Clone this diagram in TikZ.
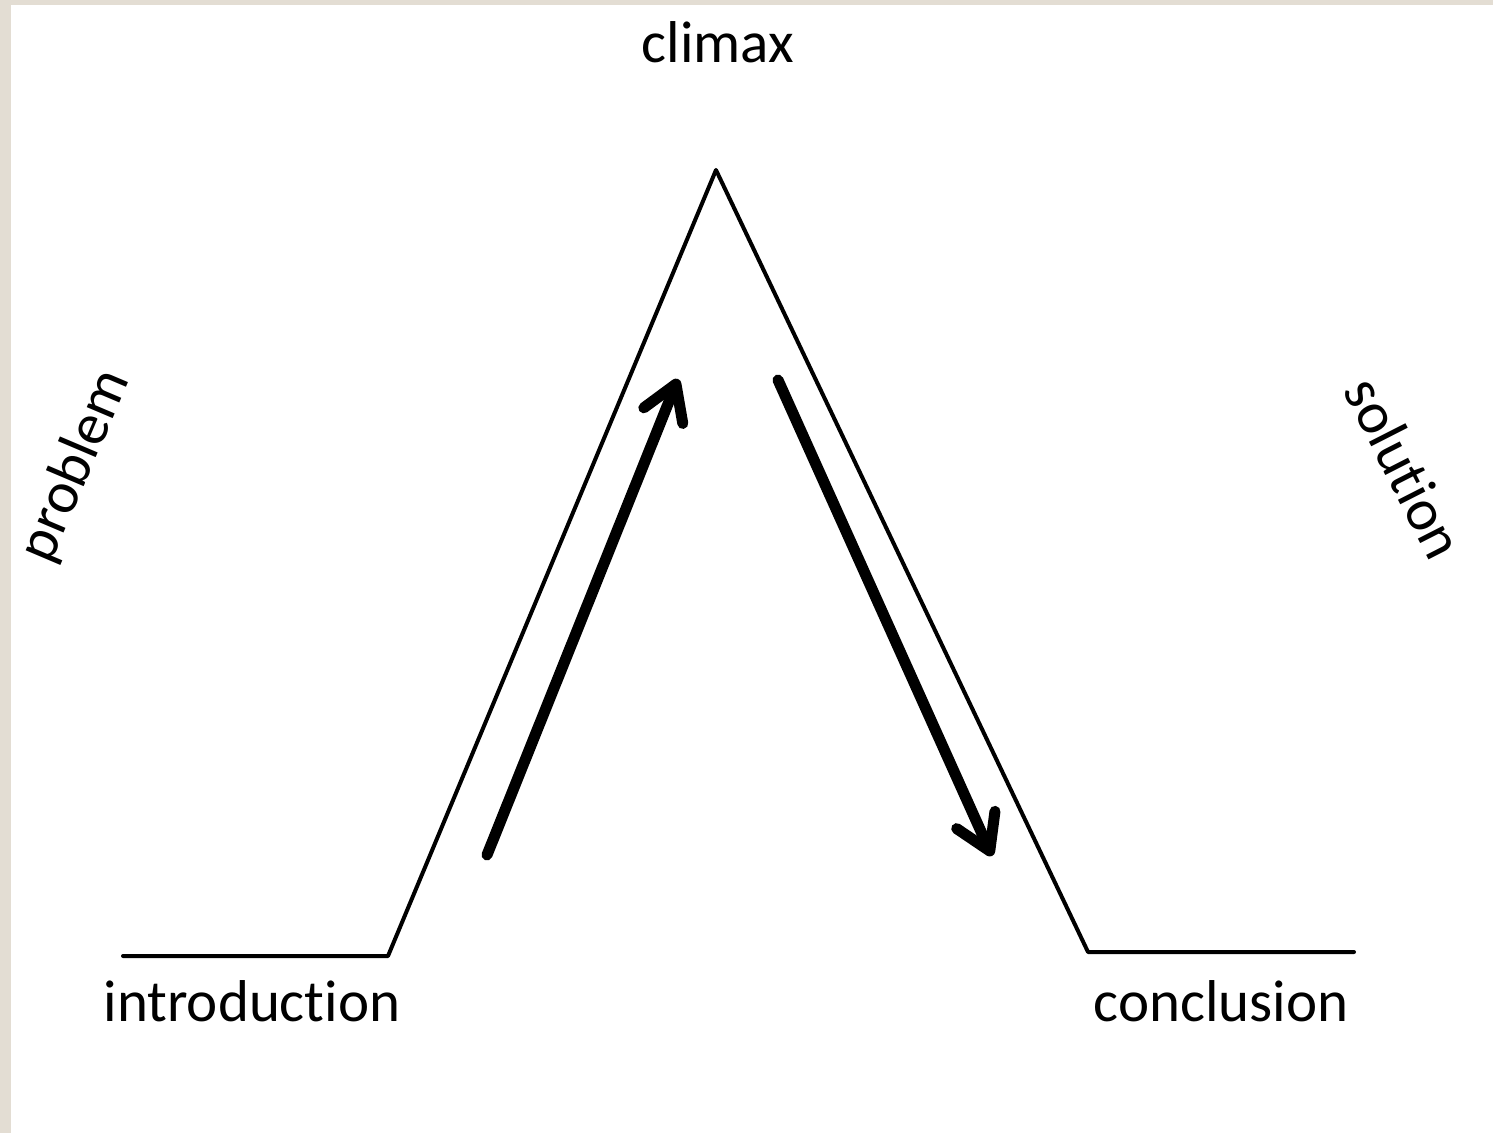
\documentclass[tikz,border=0pt]{standalone}
\usepackage{fontspec}
\setmainfont{Carlito}[Ligatures={NoCommon,NoRare,NoDiscretionary}]
\usetikzlibrary{arrows.meta}
\definecolor{frame}{HTML}{E3DDD3}
\begin{document}
\begin{tikzpicture}[x=0.5pt,y=-0.5pt,line cap=round,line join=round,
  lbl/.style={font=\fontsize{29.5}{35}\selectfont,inner sep=0pt},
  edge/.style={line width=2pt},
  move/.style={line width=5.5pt,-{Straight Barb[length=17pt,width=21pt,round]}}]
  \fill[frame] (0,0) rectangle (1493,1133);
  \fill[white] (11,5) rectangle (1493,1133);
  \useasboundingbox (0,0) rectangle (1493,1133);
  % labels
  \node[lbl,anchor=base] (climax) at (718,63) {climax};
  \node[lbl,anchor=base] (intro) at (252,1021) {introduction};
  \node[lbl,anchor=base] (concl) at (1221,1021) {conclusion};
  \node[lbl,rotate=67] (problem) at (76,466) {problem};
  \node[lbl,rotate=-63] (solution) at (1405,468) {solution};
  % the mountain
  \coordinate (startL) at (123,956);
  \coordinate (footL) at (388,956);
  \coordinate (peak) at (716,170);
  \coordinate (footR) at (1088,952);
  \coordinate (endR) at (1354,952);
  \draw[edge] (startL) -- (footL) -- (peak) -- (footR) -- (endR);
  % rising and falling
  \coordinate (upA) at (487,855);
  \coordinate (upB) at (678,379);
  \coordinate (downA) at (778,380);
  \coordinate (downB) at (992,856);
  \draw[move] (upA) -- (upB);
  \draw[move] (downA) -- (downB);
\end{tikzpicture}
\end{document}
